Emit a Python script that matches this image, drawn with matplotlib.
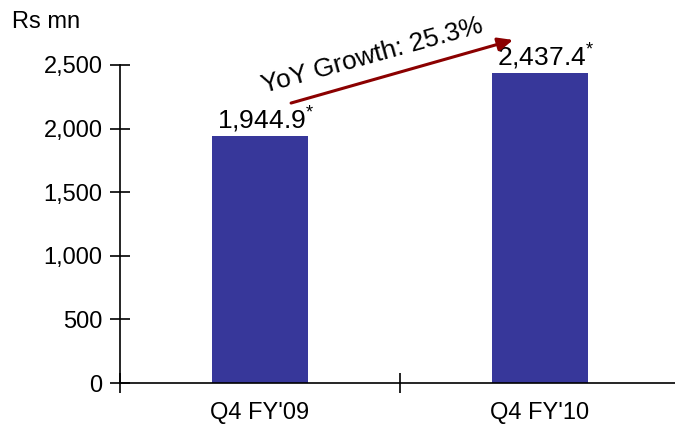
import matplotlib.pyplot as plt
import numpy as np

plt.rcParams['font.family'] = ['Liberation Sans', 'DejaVu Sans']
plt.rcParams['mathtext.fontset'] = 'custom'
plt.rcParams['mathtext.rm'] = 'Liberation Sans'
plt.rcParams['mathtext.it'] = 'Liberation Sans'

categories = ["Q4 FY'09", "Q4 FY'10"]
values = [1944.9, 2437.4]
value_labels = ['1,944.9', '2,437.4']
yticks = [0, 500, 1000, 1500, 2000, 2500]
growth_label = 'YoY Growth: 25.3%'

fig = plt.figure(figsize=(6.75, 4.25), dpi=100)
# axes spans slightly past right edge like the original
ax = fig.add_axes([120 / 675, 42 / 425, 560 / 675, 318 / 425])

x = np.arange(len(categories))
bars = ax.bar(x, values, width=0.34, color='#37379a', zorder=2)

ax.set_xlim(-0.5, len(categories) - 0.5)
ax.set_ylim(0, 2500)

ax.spines['top'].set_visible(False)
ax.spines['right'].set_visible(False)
ax.spines['left'].set_linewidth(1.2)
ax.spines['bottom'].set_linewidth(1.2)

ax.set_yticks(yticks)
ax.set_yticklabels([f'{v:,}' for v in yticks], fontsize=17)
ax.tick_params(axis='y', direction='inout', length=15, width=1.2, pad=5)

ax.set_xticks(x)
ax.set_xticklabels(categories, fontsize=17)
ax.tick_params(axis='x', which='major', length=0, pad=14)
ax.set_xticks(np.arange(len(categories) + 1) - 0.5, minor=True)
ax.tick_params(axis='x', which='minor', direction='inout', length=15, width=1.2)

for b, lab in zip(bars, value_labels):
    ax.text(b.get_x() + b.get_width() / 2 + 0.02, b.get_height() + 5, lab + '$^{*}$',
            ha='center', va='bottom', fontsize=19)

ax.annotate('', xy=(0.904, 2697), xytext=(0.111, 2201),
            arrowprops=dict(arrowstyle='-|>,head_length=0.9,head_width=0.4',
                            color='#8b0000', lw=2.2, shrinkA=0, shrinkB=0),
            annotation_clip=False)
ax.text(0.40, 2570, growth_label, rotation=15.5, rotation_mode='anchor',
        ha='center', va='center', fontsize=19, clip_on=False)

fig.text(12 / 675, 1 - 22 / 425, 'Rs mn', fontsize=17, ha='left', va='center')

fig.savefig('out.png', dpi=100)
